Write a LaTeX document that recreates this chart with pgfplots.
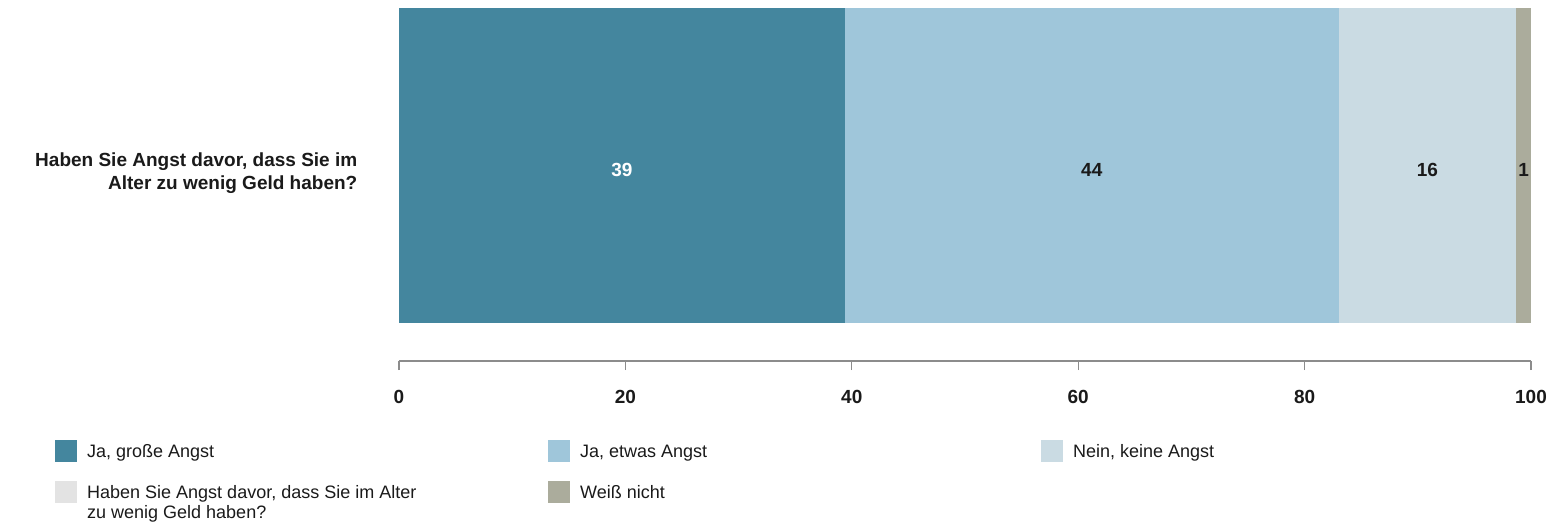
\documentclass[border=0pt]{standalone}
\usepackage{pgfplots}
\pgfplotsset{compat=1.18}
\usepackage{fontspec}
\setmainfont{Liberation Sans}
\definecolor{c1}{HTML}{44869E}
\definecolor{c2}{HTML}{9FC6DA}
\definecolor{c3}{HTML}{CADBE3}
\definecolor{c4}{HTML}{ABAC9C}
\definecolor{c5}{HTML}{E3E3E3}
\definecolor{axc}{HTML}{8C8C8C}
\definecolor{txt}{HTML}{1A1A1A}
\begin{document}
\begin{tikzpicture}
\begin{axis}[
  scale only axis, width=1132pt, height=353pt,
  xbar stacked, bar width=0.892,
  xmin=0, xmax=100, ymin=0, ymax=1,
  axis x line=bottom, axis y line=left,
  x axis line style={-, draw=axc, line width=1.2pt},
  y axis line style={draw=none},
  xtick={0,20,40,60,80,100},
  xtick align=outside,
  xtick style={draw=axc, line width=1.2pt},
  major tick length=9pt,
  ytick={0.554}, ytick style={draw=none},
  yticklabels={{Haben Sie Angst davor{,} dass Sie im\\Alter zu wenig Geld haben?}},
  yticklabel style={align=right, inner sep=0pt, xshift=-37pt, yshift=-8pt, font=\bfseries\fontsize{19}{23}\selectfont, text=txt},
  xticklabel style={inner sep=0pt, yshift=-20pt, font=\bfseries\fontsize{19}{23}\selectfont, text=txt},
  /pgf/number format/assume math mode=true,
  nodes near coords={\pgfmathprintnumber[fixed,precision=0]{\pgfplotspointmeta}},
  point meta=rawx,
  every node near coord/.append style={anchor=center, yshift=-5pt, font=\bfseries\fontsize{19}{23}\selectfont, text=txt},
  legend columns=3,
  legend cell align=left,
  legend style={at={(-0.3039,-0.2238)}, anchor=north west, draw=none, fill=none, inner sep=0pt, row sep=19pt,
    font=\fontsize{18}{22}\selectfont, text=txt,
    /tikz/every odd column/.append style={column sep=8pt}},
  legend image code/.code={\fill[#1] (0pt,-10pt) rectangle (22pt,12pt);},
]
\coordinate (O) at (rel axis cs:0,0);
\addplot[fill=c1, draw=none, every node near coord/.append style={text=white}] coordinates {(39.4,0.554)};
\addlegendentry{\makebox[459pt][l]{Ja, große Angst}}
\addplot[fill=c2, draw=none] coordinates {(43.6,0.554)};
\addlegendentry{\makebox[459pt][l]{Ja, etwas Angst}}
\addplot[fill=c3, draw=none] coordinates {(15.7,0.554)};
\addlegendentry{\makebox[459pt][l]{Nein, keine Angst}}
\addlegendimage{fill=c5, draw=none}
\addlegendentry{\makebox[459pt][l]{\rlap{\raisebox{-20pt}[0pt][0pt]{zu wenig Geld haben?}}Haben Sie Angst davor, dass Sie im Alter}}
\addplot[fill=c4, draw=none] coordinates {(1.3,0.554)};
\addlegendentry{\makebox[459pt][l]{Weiß nicht}}
\end{axis}
\pgfresetboundingbox
\path[shift={(O)}] (-399pt,-161pt) rectangle (1155pt,361pt);
\end{tikzpicture}
\end{document}
